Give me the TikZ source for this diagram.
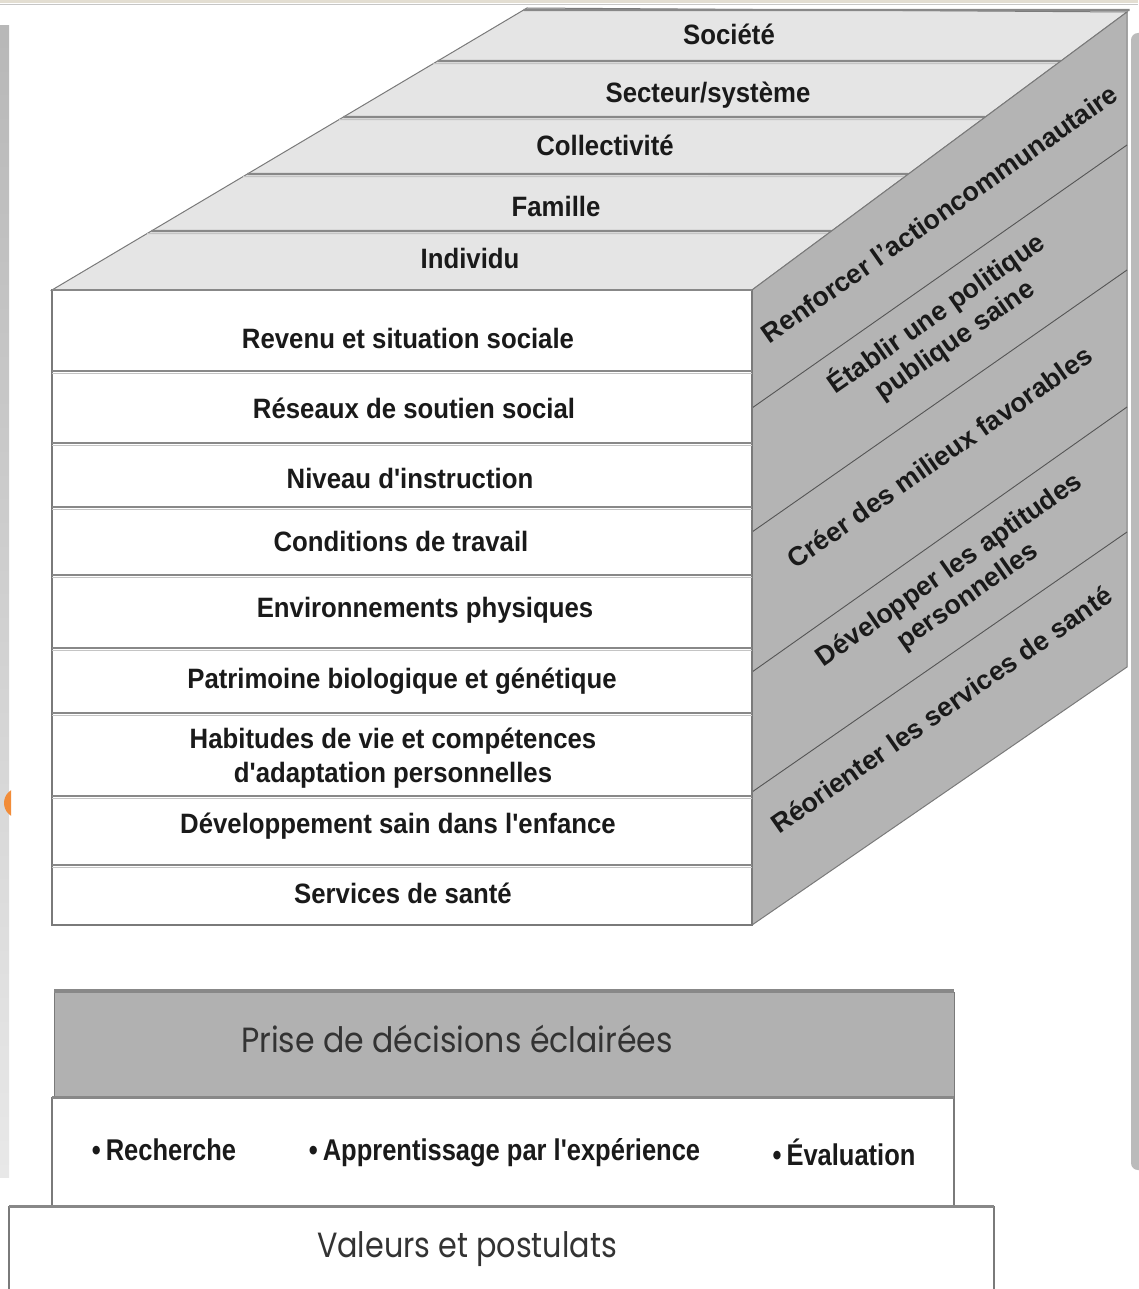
\documentclass[tikz,border=0pt]{standalone}
\usepackage{fontspec}
\usepackage{graphicx}
\setmainfont{Liberation Sans}
\newfontfamily\condfont{Liberation Sans}[FakeStretch=0.92]
\newfontfamily\bulfont{Liberation Sans}[FakeStretch=0.85]
\newfontfamily\popfont{Poppins}
\usetikzlibrary{calc}
\definecolor{topfill}{HTML}{E5E5E5}
\definecolor{sidefill}{HTML}{B4B4B4}
\definecolor{edgec}{HTML}{7A7A7A}
\definecolor{sepc}{HTML}{888888}
\definecolor{seplight}{HTML}{C4C4C4}
\definecolor{sidesep}{HTML}{555555}
\definecolor{boxgray}{HTML}{B1B1B1}
\definecolor{framegray}{HTML}{BBBBBB}
\definecolor{beigec}{HTML}{E3DED2}
\definecolor{orangec}{HTML}{F28C38}
\definecolor{txt}{HTML}{1A1A1A}
\newcommand{\fitw}[2]{\resizebox{#1pt}{\height}{#2}}
\tikzset{
  lbl/.style={anchor=base, inner sep=0pt, text=txt, font=\condfont\bfseries\fontsize{28}{34}\selectfont},
  sidelbl/.style={anchor=base, inner sep=0pt, text=txt, rotate=35, align=center, font=\bfseries\fontsize{26.8}{32}\selectfont},
  bullbl/.style={anchor=base, inner sep=0pt, text=txt, font=\bulfont\bfseries\fontsize{30}{36}\selectfont},
  poplbl/.style={anchor=base, inner sep=0pt, text=black!80, font=\popfont\fontsize{35}{42}\selectfont},
  sepline/.style={draw=sepc, line width=2.2pt},
  seplow/.style={draw=seplight, line width=1.2pt},
  sideline/.style={draw=sidesep, line width=0.9pt},
}
\begin{document}
\begin{tikzpicture}[x=1pt,y=-1pt]
\useasboundingbox (0,0) rectangle (1138,1289);
\fill[white] (0,0) rectangle (1138,1289);
% slide frame remnants
\fill[beigec] (0,0) rectangle (1138,3.5);
\draw[gray!45, line width=1.5pt] (0,4.5) -- (1138,4.5);
\shade[top color=black!28, bottom color=black!9] (0,26) rectangle (9,1177);
\begin{scope}
  \clip (0,780) rectangle (11,830);
  \fill[orangec] (19,803) circle (15);
\end{scope}
\fill[framegray, rounded corners=7pt] (1131,33) rectangle (1150,1170);

% cube corners
\coordinate (FTL) at (52,290);
\coordinate (FTR) at (752,290);
\coordinate (FBL) at (52,925);
\coordinate (FBR) at (752,925);
\coordinate (TBL) at (527,8);
\coordinate (TBR) at (1127,12);
\coordinate (RBR) at (1127,667);

% top face
\filldraw[fill=topfill, draw=edgec, line width=1pt] (FTL) -- (TBL) -- (TBR) -- (FTR) -- cycle;
\draw[sepline] ($(FTL)!{(290-10)/282}!(TBL)$) -- ($(FTR)!{(290-10)/278}!(TBR)$);
\foreach \yy in {61,117,174,231} {
  \draw[sepline] ($(FTL)!{(290-\yy)/282}!(TBL)$) -- ($(FTR)!{(290-\yy)/278}!(TBR)$);
  \draw[seplow] ($(FTL)!{(290-\yy-2.6)/282}!(TBL)$) -- ($(FTR)!{(290-\yy-2.6)/278}!(TBR)$);
}
% right face
\filldraw[fill=sidefill, draw=edgec, line width=1pt] (FTR) -- (TBR) -- (RBR) -- (FBR) -- cycle;
\foreach \a/\b in {408/145,532/270,672/407,792/532} {
  \draw[sideline] (752,\a) -- (1127,\b);
}
% front face
\filldraw[fill=white, draw=edgec, line width=1.5pt] (FTL) rectangle (FBR);
\draw[sepline] (FTL) -- (FTR);
\foreach \yy in {371,443,507,575,648,713,796,865} {
  \draw[sepline] (52,\yy) -- (752,\yy);
  \draw[seplow] (52,\yy+2.6) -- (752,\yy+2.6);
}

% top labels
\node[lbl] (societe) at (729,45) {Société};
\node[lbl] (secteur) at (708,103) {Secteur/système};
\node[lbl] (collect) at (605,156) {Collectivité};
\node[lbl] (famille) at (556,217) {Famille};
\node[lbl] (individu) at (470,268) {Individu};

% front labels
\node[lbl] (revenu) at (408,348) {Revenu et situation sociale};
\node[lbl] (reseaux) at (414,418) {Réseaux de soutien social};
\node[lbl] (niveau) at (410,488) {Niveau d'instruction};
\node[lbl] (travail) at (401,551) {Conditions de travail};
\node[lbl] (environ) at (425,617) {Environnements physiques};
\node[lbl] (patrim) at (402,688) {Patrimoine biologique et génétique};
\node[lbl] (habitA) at (393,748) {Habitudes de vie et compétences};
\node[lbl] (habitB) at (393,782) {d'adaptation personnelles};
\node[lbl] (enfance) at (398,833) {Développement sain dans l'enfance};
\node[lbl] (services) at (403,903) {Services de santé};

% side labels
\node[sidelbl] (renforcer) at (945,221.5) {Renforcer l'actioncommunautaire};
\node[sidelbl, anchor=center] (etablir) at (945.3,326.4) {Établir une politique\\publique saine};
\node[sidelbl] (creer) at (945,465) {Créer des milieux favorables};
\node[sidelbl, anchor=center] (dev) at (958.8,583.9) {Développer les aptitudes\\personnelles};
\node[sidelbl] (reorient) at (947,717.5) {Réorienter les services de santé};

% bottom blocks
\fill[boxgray] (54,992) rectangle (954,1097);
\draw[edgec, line width=1pt] (54,992) -- (54,1097) (954,992) -- (954,1097);
\draw[draw=sepc, line width=4pt] (54,991) -- (954,991);
\draw[edgec, line width=1.3pt] (52,1097) -- (52,1205) (954,1097) -- (954,1205);
\draw[draw=sepc, line width=3pt] (52,1097) -- (954,1097);
\draw[edgec, line width=1.3pt] (9,1289) -- (9,1206) (994,1206) -- (994,1289);
\draw[draw=sepc, line width=3pt] (9,1206) -- (994,1206);

\node[poplbl] (prise) at (457,1052) {\fitw{432}{Prise de décisions éclairées}};
\node[bullbl] (recherche) at (164,1160) {•\,Recherche};
\node[bullbl] (apprent) at (504.5,1160) {•\,Apprentissage par l'expérience};
\node[bullbl] (evaluation) at (844,1165) {•\,Évaluation};
\node[poplbl] (valeurs) at (467,1257) {\fitw{300}{Valeurs et postulats}};
\end{tikzpicture}
\end{document}
